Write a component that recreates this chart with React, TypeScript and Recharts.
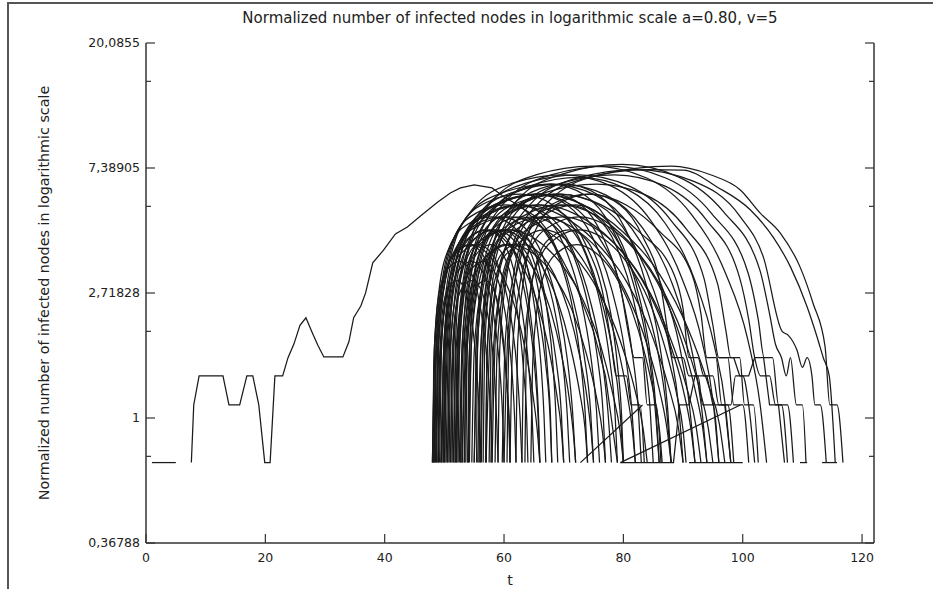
import { LineChart, Line, XAxis, YAxis } from 'recharts';

// x axis
const xTicks = [0, 20, 40, 60, 80, 100, 120];

// y axis (natural log scale, e^-1 .. e^3)
const yMajorTicks = [0.36788, 1, 2.71828, 7.38905, 20.0855];
const yMajorLabels = ['0,36788', '1', '2,71828', '7,38905', '20,0855'];
const yMinorTicks = [0.73576, 2, 5.43656, 14.7781];

// the single early run that starts at t=0 (two pieces, gap where value is 0)
const earlyRuns: number[][][] = [
  [[1, 0.7], [5, 0.7]],
  [[7.6, 0.7], [8, 1.11], [8.9, 1.4], [12.9, 1.4], [13.9, 1.11], [15.7, 1.11], [16.9, 1.4], [17.9, 1.4],
   [18.9, 1.11], [19.9, 0.7], [20.8, 0.7], [21.6, 1.4], [22.9, 1.4], [23.8, 1.62], [24.8, 1.81], [25.8, 2.1],
   [26.8, 2.23], [27.9, 1.97], [28.8, 1.79], [29.8, 1.63], [33, 1.63], [34, 1.84], [34.8, 2.23], [36, 2.45],
   [36.8, 2.72], [38, 3.46], [39.8, 3.83], [41.8, 4.36], [43.8, 4.61], [46, 5.03], [48.9, 5.63], [51, 6.05],
   [52.7, 6.3], [55, 6.45], [58, 6.3], [60, 5.86], [63, 5.4], [66, 4.7], [69, 3.8], [72, 2.9], [75, 2.0],
   [77, 1.4], [79, 0.7]],
];

// long, tall runs
const wideRuns: number[][][] = [
  [[48, .7], [48.5, 1.91], [50.2, 3.33], [53.7, 4.98], [59.9, 6.08], [67.8, 6.5], [75.3, 5.95], [81.4, 4.55], [86.3, 2.92], [89.4, 1.78], [91.1, 1.09], [92, .7]],
  [[48.5, .7], [49.1, 1.97], [50.9, 3.51], [54.7, 5.31], [61.3, 6.53], [69.9, 7.0], [78, 6.39], [84.6, 4.85], [89.8, 3.06], [93.2, 1.84], [95.1, 1.11], [96, .7]],
  [[49, .7], [49.5, 1.84], [51, 3.15], [54.1, 4.64], [59.5, 5.63], [66.6, 6.0], [73.2, 5.51], [78.6, 4.25], [82.9, 2.77], [85.7, 1.73], [87.2, 1.08], [88, .7]],
  [[50, .7], [50.6, 1.97], [52.5, 3.51], [56.5, 5.31], [63.5, 6.53], [72.5, 7.0], [81, 6.39], [88, 4.85], [93.5, 3.06], [95, 2.1], [96, 1.62], [97.5, 1.62], [98.5, 1.11], [100, 1.11], [101, .7]],
  [[51, .7], [51.6, 2.03], [53.7, 3.68], [57.9, 5.64], [65.3, 6.99], [74.9, 7.5], [83.9, 6.82], [91.3, 5.13], [97.1, 3.19], [100.8, 1.89], [102.9, 1.12], [104, .7]],
  [[52, .7], [52.6, 1.95], [54.3, 3.45], [58, 5.2], [64.4, 6.4], [72.7, 6.85], [80.5, 6.25], [87, 4.75], [92, 3.0], [95.2, 1.8], [97.1, 1.1], [98, .7]],
  [[53, .7], [53.7, 2.03], [55.8, 3.68], [60.2, 5.64], [67.9, 6.99], [77.8, 7.5], [87.1, 6.82], [94.8, 5.13], [100.9, 3.19], [102.6, 2.2], [103.6, 1.62], [105, 1.62], [106, 1.11], [107.5, 1.11], [108.5, .7]],
  [[55, .7], [55.7, 2.05], [57.8, 3.7], [62.2, 5.7], [69.9, 7.05], [79.8, 7.6], [89.1, 6.9], [96.8, 5.2], [102.9, 3.25], [104.5, 2.3], [105.5, 1.8], [106.5, 1.62], [107.3, 1.4], [108, 1.62], [109, 1.11], [110, 1.11], [110.6, .7]],
  [[57, .7], [57.7, 2.0], [59.8, 3.6], [64.3, 5.5], [72.1, 6.8], [82.2, 7.3], [91.7, 6.65], [99.6, 5.0], [103.5, 3.6], [106.6, 2.0], [107.6, 1.94], [109.1, 1.72], [110, 1.5], [110.8, 1.62], [111.6, 1.4], [112.1, 1.11], [113, 1.11], [114, .7]],
  [[60, .7], [60.7, 2.03], [62.9, 3.68], [67.4, 5.64], [76, 6.99], [88, 7.5], [94.6, 7.0], [99.6, 6.2], [102.9, 5.16], [106.3, 4.39], [109.6, 3.35], [111.8, 2.5], [113.8, 1.77], [114.6, 1.11], [115.8, 1.11], [116.8, .7]],
  [[58, .7], [58.6, 2.0], [60.8, 3.6], [65.5, 5.5], [73.5, 6.8], [84, 7.3], [90, 7.27], [95.7, 6.35], [101.3, 5.28], [105.1, 4.25], [108, 3.35], [110.8, 2.43], [112.5, 1.9], [113.5, 1.62], [114.5, 1.4], [115.5, .7]],
  [[54, .7], [54.6, 1.91], [56.4, 3.33], [60.2, 4.98], [67, 6.08], [75.6, 6.5], [83.8, 5.95], [90.5, 4.55], [95.8, 2.92], [97.2, 2.0], [98, 1.62], [99.5, 1.62], [100.3, 1.11], [101.8, 1.11], [102.6, .7]],
  [[56, .7], [56.6, 1.97], [58.5, 3.51], [62.5, 5.31], [69.5, 6.53], [78.5, 7.0], [87, 6.39], [94, 4.85], [99.5, 3.06], [101, 2.2], [102, 1.62], [103, 1.4], [104.5, 1.4], [105.5, 1.11], [106.5, 1.11], [107.5, .7]],
  [[49.5, .7], [50, 1.91], [51.7, 3.33], [55.3, 4.98], [61.5, 6.08], [69.5, 6.5], [77.1, 5.95], [83.3, 4.55], [88.2, 2.92], [91.3, 1.78], [93.1, 1.09], [94, .7]],
  [[52.5, .7], [53, 1.84], [54.4, 3.15], [57.4, 4.64], [62.6, 5.63], [69.4, 6.0], [75.8, 5.51], [81, 4.25], [85.1, 2.77], [87.8, 1.73], [89.3, 1.08], [90, .7]],
];

// medium runs
const midRuns: number[][][] = [
  [[48, .7], [48.3, 1.7], [49.1, 2.77], [50.9, 3.95], [53.9, 4.71], [57.9, 5.0], [61.6, 4.62], [64.7, 3.65], [67.1, 2.46], [68.7, 1.6], [69.6, 1.04], [70, .7]],
  [[48.3, .7], [48.6, 1.77], [49.6, 2.96], [51.8, 4.3], [55.5, 5.17], [60.3, 5.5], [64.9, 5.07], [68.6, 3.96], [71.5, 2.62], [73.4, 1.66], [74.5, 1.06], [75, .7]],
  [[48.7, .7], [49.1, 1.84], [50.3, 3.15], [52.8, 4.64], [57.2, 5.63], [62.8, 6.0], [68.1, 5.51], [72.5, 4.25], [75.9, 2.77], [78.1, 1.73], [79.4, 1.08], [80, .7]],
  [[49.2, .7], [49.5, 1.7], [50.3, 2.77], [52.2, 3.95], [55.4, 4.71], [59.5, 5.0], [63.3, 4.62], [66.5, 3.65], [69, 2.46], [70.6, 1.6], [71.5, 1.04], [72, .7]],
  [[49.8, .7], [50.1, 1.77], [51.2, 2.96], [53.5, 4.3], [57.4, 5.17], [62.5, 5.5], [67.3, 5.07], [71.2, 3.96], [74.3, 2.62], [76.3, 1.66], [77.4, 1.06], [78, .7]],
  [[50.3, .7], [50.7, 1.84], [52, 3.15], [54.7, 4.64], [59.4, 5.63], [65.5, 6.0], [71.2, 5.51], [75.9, 4.25], [79.6, 2.77], [81, 1.9], [81.8, 1.62], [83.2, 1.62], [84, 1.11], [85.5, 1.11], [86.3, .7]],
  [[50.8, .7], [51, 1.62], [51.7, 2.58], [53, 3.6], [55.4, 4.26], [58.5, 4.5], [61.5, 4.18], [63.9, 3.34], [65.8, 2.3], [67, 1.53], [67.7, 1.02], [68, .7]],
  [[51.3, .7], [51.6, 1.77], [52.5, 2.96], [54.5, 4.3], [58, 5.17], [62.4, 5.5], [66.6, 5.07], [70.1, 3.96], [72.8, 2.62], [74.5, 1.66], [75.5, 1.06], [76, .7]],
  [[51.8, .7], [52.2, 1.84], [53.3, 3.15], [55.7, 4.64], [60, 5.63], [65.4, 6.0], [70.5, 5.51], [74.8, 4.25], [78.1, 2.77], [80.2, 1.73], [81.4, 1.08], [82, .7]],
  [[52.3, .7], [52.5, 1.62], [53.2, 2.58], [54.7, 3.6], [57.4, 4.26], [60.7, 4.5], [63.9, 4.18], [66.5, 3.34], [68.6, 2.3], [69.9, 1.53], [70.6, 1.02], [71, .7]],
  [[53, .7], [53.4, 1.91], [54.7, 3.33], [57.3, 4.98], [61.9, 6.08], [67.9, 6.5], [73.5, 5.95], [78.1, 4.55], [81.7, 2.92], [84, 1.78], [85.3, 1.09], [86, .7]],
  [[53.6, .7], [53.8, 1.7], [54.6, 2.77], [56.3, 3.95], [59.1, 4.71], [62.8, 5.0], [66.3, 4.62], [69.1, 3.65], [71.4, 2.46], [72.8, 1.6], [73.6, 1.04], [74, .7]],
  [[54.2, .7], [54.5, 1.77], [55.5, 2.96], [57.6, 4.3], [61.2, 5.17], [65.8, 5.5], [70.2, 5.07], [73.8, 3.96], [76.7, 2.62], [78, 1.8], [78.8, 1.4], [80.5, 1.4], [81.3, 1.11], [82.8, 1.11], [83.5, .7]],
  [[55, .7], [55.3, 1.7], [56.1, 2.77], [57.9, 3.95], [60.9, 4.71], [64.9, 5.0], [68.6, 4.62], [71.7, 3.65], [74.1, 2.46], [75.7, 1.6], [76.6, 1.04], [77, .7]],
  [[55.8, .7], [56.2, 1.91], [57.4, 3.33], [60, 4.98], [64.5, 6.08], [70.3, 6.5], [75.8, 5.95], [80.3, 4.55], [83.8, 2.92], [86.1, 1.78], [87.4, 1.09], [88, .7]],
  [[56.5, .7], [56.8, 1.84], [57.8, 3.15], [60, 4.64], [63.7, 5.63], [68.4, 6.0], [72.9, 5.51], [76.6, 4.25], [79.6, 2.77], [81.4, 1.73], [82.5, 1.08], [83, .7]],
  [[57.5, .7], [57.8, 1.7], [58.6, 2.77], [60.3, 3.95], [63.3, 4.71], [67.2, 5.0], [70.8, 4.62], [73.8, 3.65], [76.2, 2.46], [77.7, 1.6], [78.6, 1.04], [79, .7]],
  [[59, .7], [59.3, 1.77], [60.3, 2.96], [62.4, 4.3], [66, 5.17], [70.7, 5.5], [75.1, 5.07], [78.8, 3.96], [81.6, 2.62], [83.4, 1.66], [84.5, 1.06], [85, .7]],
  [[60.5, .7], [60.8, 1.77], [61.8, 2.96], [63.8, 4.3], [67.4, 5.17], [72, 5.5], [76.3, 5.07], [79.9, 3.96], [82.7, 2.62], [84.5, 1.66], [85.5, 1.06], [86, .7]],
  [[62, .7], [62.3, 1.84], [63.4, 3.15], [65.6, 4.64], [69.6, 5.63], [74.6, 6.0], [79.4, 5.51], [83.3, 4.25], [86.4, 2.77], [87.6, 1.9], [88.3, 1.62], [90, 1.62], [91, 1.4], [92.5, 1.4], [93.3, 1.11], [95, 1.11], [96, .7]],
  [[63.5, .7], [63.7, 1.62], [64.3, 2.58], [65.7, 3.6], [68, 4.26], [70.9, 4.5], [73.7, 4.18], [76, 3.34], [77.9, 2.3], [79, 1.53], [79.7, 1.02], [80, .7]],
];

// runs that peak early and fall away slowly
const slowRuns: number[][][] = [
  [[48.2, .7], [48.6, 1.7], [49.8, 2.77], [52.1, 3.95], [56.1, 4.71], [60.7, 5.0], [66.1, 4.62], [71.1, 3.8], [75.8, 2.77], [79.4, 1.87], [81.9, 1.26], [83.3, .92], [84, .7]],
  [[48.9, .7], [49.4, 1.77], [50.8, 2.96], [53.4, 4.3], [57.9, 5.17], [63.3, 5.5], [69.5, 5.07], [75.2, 4.12], [80.6, 2.96], [84.7, 1.96], [87.5, 1.3], [89.2, .93], [90, .7]],
  [[49.4, .7], [50, 1.84], [51.5, 3.15], [54.6, 4.64], [59.9, 5.63], [66.1, 6.0], [73.2, 5.51], [79.9, 4.44], [86.1, 3.15], [90.8, 2.05], [94.1, 1.33], [96.1, .95], [97, .7]],
  [[50.5, .7], [50.9, 1.62], [51.8, 2.58], [53.8, 3.6], [57, 4.26], [60.8, 4.5], [65.3, 4.18], [69.4, 3.47], [73.2, 2.58], [76.2, 1.78], [78.2, 1.22], [79.4, .91], [80, .7]],
  [[51.5, .7], [52, 1.77], [53.4, 2.96], [56.1, 4.3], [60.6, 5.17], [66, 5.5], [72.3, 5.07], [78.1, 4.12], [83.5, 2.96], [87.6, 1.96], [90.5, 1.3], [92.2, .93], [93, .7]],
  [[52.7, .7], [53, 1.53], [53.8, 2.37], [55.4, 3.24], [58.1, 3.8], [61.2, 4.0], [64.9, 3.73], [68.3, 3.13], [71.4, 2.37], [73.8, 1.67], [75.5, 1.18], [76.5, .89], [77, .7]],
  [[53.3, .7], [53.9, 1.84], [55.4, 3.15], [58.3, 4.64], [63.4, 5.63], [69.3, 6.0], [76.2, 5.51], [82.6, 4.44], [88.5, 3.15], [90, 2.4], [91, 1.62], [92.5, 1.62], [93.5, 1.4], [95, 1.4], [96, 1.11], [97.5, 1.11], [98.5, .7]],
  [[54.6, .7], [55, 1.7], [56.1, 2.77], [58.3, 3.95], [62, 4.71], [66.3, 5.0], [71.3, 4.62], [76, 3.8], [80.3, 2.77], [83.7, 1.87], [86, 1.26], [87.3, .92], [88, .7]],
  [[55.6, .7], [56.1, 1.77], [57.4, 2.96], [59.9, 4.3], [64.3, 5.17], [69.4, 5.5], [75.3, 5.07], [80.8, 4.12], [85.9, 2.96], [89.9, 1.96], [92.6, 1.3], [94.2, .93], [95, .7]],
  [[57.8, .7], [58.2, 1.7], [59.3, 2.77], [61.6, 3.95], [65.3, 4.71], [69.8, 5.0], [74.9, 4.62], [79.7, 3.8], [84.1, 2.77], [87.6, 1.87], [90, 1.26], [91.3, .92], [92, .7]],
  [[59.7, .7], [60.2, 1.84], [61.6, 3.15], [64.2, 4.64], [68.8, 5.63], [74.2, 6.0], [80.4, 5.51], [86.1, 4.44], [91.5, 3.15], [93, 2.3], [94, 1.62], [95.5, 1.62], [96.5, 1.11], [98, 1.11], [98.8, 1.4], [100, 1.4], [101, 1.11], [102, .7]],
  [[61, .7], [61.4, 1.7], [62.5, 2.77], [64.6, 3.95], [68.3, 4.71], [72.6, 5.0], [77.5, 4.62], [82.1, 3.8], [86.4, 2.77], [89.7, 1.87], [92, 1.26], [93.3, .92], [94, .7]],
  [[63, .7], [63.3, 1.62], [64.2, 2.58], [66, 3.6], [69.1, 4.26], [72.6, 4.5], [76.8, 4.18], [80.6, 3.47], [84.2, 2.58], [86.9, 1.78], [88.9, 1.22], [90, .91], [90.5, .7]],
  [[48.4, .7], [48.6, 1.53], [49.2, 2.37], [50.3, 3.24], [52.3, 3.8], [54.6, 4.0], [57.2, 3.73], [59.7, 3.13], [62, 2.37], [63.7, 1.67], [64.9, 1.18], [65.6, .89], [66, .7]],
  [[49.9, .7], [50.1, 1.62], [50.8, 2.58], [52.1, 3.6], [54.3, 4.26], [56.9, 4.5], [60, 4.18], [62.8, 3.47], [65.4, 2.58], [67.4, 1.78], [68.8, 1.22], [69.6, .91], [70, .7]],
  [[51.9, .7], [52.2, 1.62], [52.9, 2.58], [54.3, 3.6], [56.8, 4.26], [59.6, 4.5], [63, 4.18], [66, 3.47], [68.9, 2.58], [71.1, 1.78], [72.7, 1.22], [73.6, .91], [74, .7]],
  [[53.9, .7], [54.1, 1.53], [54.7, 2.37], [55.9, 3.24], [57.9, 3.8], [60.2, 4.0], [63, 3.73], [65.5, 3.13], [67.8, 2.37], [69.6, 1.67], [70.9, 1.18], [71.6, .89], [72, .7]],
  [[56.9, .7], [57.1, 1.53], [57.7, 2.37], [58.9, 3.24], [60.9, 3.8], [63.2, 4.0], [66, 3.73], [68.5, 3.13], [70.8, 2.37], [72.6, 1.67], [73.9, 1.18], [74.6, .89], [75, .7]],
  [[58.5, .7], [58.8, 1.62], [59.6, 2.58], [61.1, 3.6], [63.7, 4.26], [66.7, 4.5], [70.3, 4.18], [73.5, 3.47], [76.6, 2.58], [79, 1.78], [80.6, 1.22], [81.5, .91], [82, .7]],
  [[64.5, .7], [64.8, 1.53], [65.5, 2.37], [66.9, 3.24], [69.3, 3.8], [72.2, 4.0], [75.5, 3.73], [78.6, 3.13], [81.4, 2.37], [83.6, 1.67], [85.2, 1.18], [86.1, .89], [86.5, .7]],
];

// short, low runs
const shortRuns: number[][][] = [
  [[48.1, .7], [48.2, 1.44], [48.6, 2.16], [49.4, 2.89], [50.8, 3.34], [52.6, 3.5], [54.2, 3.28], [55.6, 2.7], [56.7, 1.96], [57.4, 1.38], [57.8, .97], [58, .7]],
  [[48.6, .7], [48.8, 1.53], [49.2, 2.37], [50.2, 3.24], [52, 3.8], [54.2, 4.0], [56.3, 3.73], [58, 3.03], [59.4, 2.14], [60.3, 1.45], [60.8, .99], [61, .7]],
  [[49, .7], [49.1, 1.35], [49.4, 1.94], [49.9, 2.52], [50.9, 2.87], [52.2, 3.0], [53.3, 2.83], [54.3, 2.38], [55.1, 1.78], [55.6, 1.29], [55.9, .94], [56, .7]],
  [[49.6, .7], [49.8, 1.53], [50.3, 2.37], [51.3, 3.24], [53.2, 3.8], [55.6, 4.0], [57.9, 3.73], [59.8, 3.03], [61.3, 2.14], [62.2, 1.45], [62.7, .99], [63, .7]],
  [[50.1, .7], [50.2, 1.44], [50.6, 2.16], [51.4, 2.89], [52.8, 3.34], [54.6, 3.5], [56.2, 3.28], [57.6, 2.7], [58.7, 1.96], [59.4, 1.38], [59.8, .97], [60, .7]],
  [[50.6, .7], [50.8, 1.62], [51.3, 2.58], [52.5, 3.6], [54.5, 4.26], [57.1, 4.5], [59.5, 4.18], [61.5, 3.34], [63.1, 2.3], [64.1, 1.53], [64.7, 1.02], [65, .7]],
  [[51.1, .7], [51.2, 1.35], [51.5, 1.94], [52.1, 2.52], [53.2, 2.87], [54.7, 3.0], [56, 2.83], [57.1, 2.38], [58, 1.78], [58.5, 1.29], [58.8, .94], [59, .7]],
  [[51.6, .7], [51.8, 1.62], [52.3, 2.58], [53.5, 3.6], [55.5, 4.26], [58.1, 4.5], [60.5, 4.18], [62.5, 3.34], [64.1, 2.3], [65.1, 1.53], [65.7, 1.02], [66, .7]],
  [[52.1, .7], [52.2, 1.44], [52.6, 2.16], [53.4, 2.89], [54.8, 3.34], [56.6, 3.5], [58.2, 3.28], [59.6, 2.7], [60.7, 1.96], [61.4, 1.38], [61.8, .97], [62, .7]],
  [[52.8, .7], [52.9, 1.53], [53.4, 2.37], [54.3, 3.24], [55.8, 3.8], [57.8, 4.0], [59.7, 3.73], [61.3, 3.03], [62.5, 2.14], [63.3, 1.45], [63.8, .99], [64, .7]],
  [[53.4, .7], [53.5, 1.35], [53.8, 1.94], [54.4, 2.52], [55.5, 2.87], [56.8, 3.0], [58.1, 2.83], [59.2, 2.38], [60, 1.78], [60.5, 1.29], [60.9, .94], [61, .7]],
  [[54, .7], [54.2, 1.62], [54.7, 2.58], [55.7, 3.6], [57.5, 4.26], [59.9, 4.5], [62.1, 4.18], [63.9, 3.34], [65.3, 2.3], [66.2, 1.53], [66.7, 1.02], [67, .7]],
  [[55.4, .7], [55.5, 1.53], [55.9, 2.37], [56.8, 3.24], [58.3, 3.8], [60.2, 4.0], [62, 3.73], [63.5, 3.03], [64.6, 2.14], [65.4, 1.45], [65.8, .99], [66, .7]],
  [[56.2, .7], [56.4, 1.62], [56.8, 2.58], [57.9, 3.6], [59.7, 4.26], [62, 4.5], [64.1, 4.18], [65.9, 3.34], [67.3, 2.3], [68.2, 1.53], [68.7, 1.02], [69, .7]],
  [[57, .7], [57.1, 1.53], [57.6, 2.37], [58.4, 3.24], [60, 3.8], [62, 4.0], [63.8, 3.73], [65.4, 3.03], [66.6, 2.14], [67.3, 1.45], [67.8, .99], [68, .7]],
];

// low step pieces and straight joins near the bottom
const stepRuns: number[][][] = [
  [[79.5, .7], [88.4, .7], [89.4, 1.11], [91, 1.11], [92, 1.4], [94, 1.4], [95, 1.11], [97, 1.11], [98, .7]],
  [[72.8, .7], [83.2, 1.11]],
  [[79.5, .7], [99.6, 1.11]],
  [[91, .7], [100, .7]],
  [[96, 1.62], [98.5, 1.62], [99.5, 1.4], [101, 1.4], [102, 1.62], [103.5, 1.62], [104.5, 1.11], [106, 1.11], [107, .7]],
  [[109.6, .7], [110.8, .7]],
  [[113.3, .7], [115.8, .7]],
];

const INK = '#1a1a1a';
const AXIS = '#333';
const FONT = '"DejaVu Sans", Verdana, sans-serif';
const MAJOR = 9;
const MINOR = 5;

const toPoints = (run: number[][]) => run.map(([t, v]) => ({ t, v }));

function BottomTick({ x, y, payload }: any) {
  return (
    <g>
      <line x1={x} x2={x} y1={y} y2={y - MAJOR} stroke={AXIS} strokeWidth={1.2} />
      <text x={x} y={y + 15} dy="0.35em" textAnchor="middle" fontSize={12.5} fontFamily={FONT} fill="#222">
        {payload.value}
      </text>
    </g>
  );
}

function TopTick({ x, y }: any) {
  return <line x1={x} x2={x} y1={y} y2={y + MAJOR} stroke={AXIS} strokeWidth={1.2} />;
}

function LeftTick({ x, y, payload }: any) {
  const i = yMajorTicks.indexOf(payload.value);
  const len = i >= 0 ? MAJOR : MINOR;
  return (
    <g>
      <line x1={x} x2={x + len} y1={y} y2={y} stroke={AXIS} strokeWidth={1.2} />
      {i >= 0 && (
        <text x={x - 6} y={y} dy="0.35em" textAnchor="end" fontSize={12.5} fontFamily={FONT} fill="#222">
          {yMajorLabels[i]}
        </text>
      )}
    </g>
  );
}

function RightTick({ x, y, payload }: any) {
  const len = yMajorTicks.includes(payload.value) ? MAJOR : MINOR;
  return <line x1={x} x2={x - len} y1={y} y2={y} stroke={AXIS} strokeWidth={1.2} />;
}

export default function App() {
  const yTicks = [...yMajorTicks, ...yMinorTicks].sort((a, b) => a - b);
  const smooth = [...wideRuns, ...midRuns, ...slowRuns, ...shortRuns];
  const straight = [...earlyRuns, ...stepRuns];

  return (
    <div style={{ position: 'absolute', left: 0, top: 0, width: 933, height: 589, background: '#fff' }}>
      <div style={{ position: 'absolute', left: 7, top: 2, width: 926, height: 587, borderLeft: '2px solid #555', borderTop: '2px solid #555' }} />
      <LineChart width={933} height={589} margin={{ top: 43, right: 0, bottom: 0, left: 0 }}>
        <XAxis
          xAxisId="b"
          dataKey="t"
          type="number"
          domain={[0, 122]}
          ticks={xTicks}
          allowDataOverflow
          height={46}
          tickSize={0}
          tickMargin={0}
          tickLine={false}
          axisLine={{ stroke: AXIS, strokeWidth: 1.5 }}
          tick={<BottomTick />}
          interval={0}
        />
        <XAxis
          xAxisId="top"
          orientation="top"
          dataKey="t"
          type="number"
          domain={[0, 122]}
          ticks={xTicks}
          allowDataOverflow
          height={0}
          tickSize={0}
          tickMargin={0}
          tickLine={false}
          axisLine={{ stroke: AXIS, strokeWidth: 1.5 }}
          tick={<TopTick />}
          interval={0}
        />
        <YAxis
          yAxisId="l"
          type="number"
          scale="log"
          domain={[0.36788, 20.0855]}
          ticks={yTicks}
          allowDataOverflow
          width={146}
          tickSize={0}
          tickMargin={0}
          tickLine={false}
          axisLine={{ stroke: AXIS, strokeWidth: 1.5 }}
          tick={<LeftTick />}
          interval={0}
        />
        <YAxis
          yAxisId="r"
          orientation="right"
          type="number"
          scale="log"
          domain={[0.36788, 20.0855]}
          ticks={yTicks}
          allowDataOverflow
          width={59}
          tickSize={0}
          tickMargin={0}
          tickLine={false}
          axisLine={{ stroke: AXIS, strokeWidth: 1.5 }}
          tick={<RightTick />}
          interval={0}
        />
        {smooth.map((run, i) => (
          <Line
            key={`s${i}`}
            xAxisId="b"
            yAxisId="l"
            data={toPoints(run)}
            dataKey="v"
            type="monotone"
            stroke={INK}
            strokeWidth={1.25}
            dot={false}
            activeDot={false}
            isAnimationActive={false}
          />
        ))}
        {straight.map((run, i) => (
          <Line
            key={`l${i}`}
            xAxisId="b"
            yAxisId="l"
            data={toPoints(run)}
            dataKey="v"
            type="linear"
            stroke={INK}
            strokeWidth={1.25}
            dot={false}
            activeDot={false}
            isAnimationActive={false}
          />
        ))}
      </LineChart>
      <svg width={933} height={589} style={{ position: 'absolute', left: 0, top: 0, pointerEvents: 'none' }}>
        <text x={510} y={18} dy="0.35em" textAnchor="middle" fontSize={15} fontFamily={FONT} fill="#222">
          Normalized number of infected nodes in logarithmic scale a=0.80, v=5
        </text>
        <text
          x={0}
          y={0}
          transform="translate(44 293) rotate(-90)"
          dy="0.35em"
          textAnchor="middle"
          fontSize={14.3}
          fontFamily={FONT}
          fill="#222"
        >
          Normalized number of infected nodes in logarithmic scale
        </text>
        <text x={510} y={580} dy="0.35em" textAnchor="middle" fontSize={14.3} fontFamily={FONT} fill="#222">
          t
        </text>
      </svg>
    </div>
  );
}
